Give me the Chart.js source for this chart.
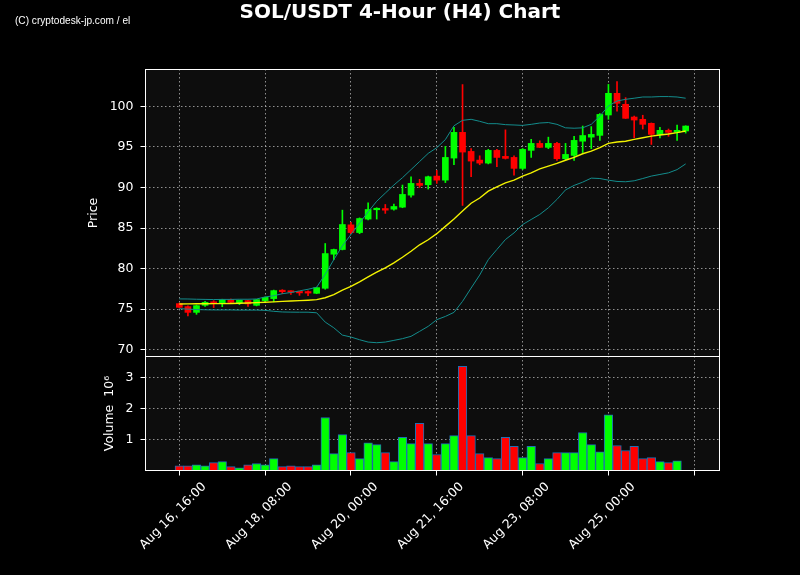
<!DOCTYPE html>
<html>
<head>
<meta charset="utf-8">
<title>SOL/USDT 4-Hour (H4) Chart</title>
<script src="https://cdn.jsdelivr.net/npm/chart.js@4.4.1/dist/chart.umd.min.js"></script>
<style>
  html, body { margin: 0; padding: 0; background: #000; }
  #wrap { position: relative; width: 800px; height: 575px; overflow: hidden; }
  #pricebox { position: absolute; left: 0; top: 0; width: 800px; height: 360px; }
  #volbox { position: absolute; left: 0; top: 355px; width: 800px; height: 220px; }
  #title { position: absolute; left: 0; top: 0; width: 800px; text-align: center; color: #fff;
           font-family: "DejaVu Sans", sans-serif; font-weight: bold; font-size: 20px; line-height: 22px; z-index: 2; }
  #credit { position: absolute; left: 15px; top: 14px; color: #fff; z-index: 2;
            font-family: "Liberation Sans Narrow", "Liberation Sans", sans-serif; font-size: 11px;
            transform: scaleX(0.92); transform-origin: left top; white-space: nowrap; }
</style>
</head>
<body>
<div id="wrap">
  <div id="pricebox"><canvas id="priceChart"></canvas></div>
  <div id="volbox"><canvas id="volChart"></canvas></div>
  <div id="title">SOL/USDT 4-Hour (H4) Chart</div>
  <div id="credit">(C) cryptodesk-jp.com / el</div>
</div>
<script>
// 4h candles, Aug 16 16:00 -> Aug 26 12:00
const times = [
  'Aug 16, 16:00', 'Aug 16, 20:00',
  'Aug 17, 00:00', 'Aug 17, 04:00', 'Aug 17, 08:00', 'Aug 17, 12:00', 'Aug 17, 16:00', 'Aug 17, 20:00',
  'Aug 18, 00:00', 'Aug 18, 04:00', 'Aug 18, 08:00', 'Aug 18, 12:00', 'Aug 18, 16:00', 'Aug 18, 20:00',
  'Aug 19, 00:00', 'Aug 19, 04:00', 'Aug 19, 08:00', 'Aug 19, 12:00', 'Aug 19, 16:00', 'Aug 19, 20:00',
  'Aug 20, 00:00', 'Aug 20, 04:00', 'Aug 20, 08:00', 'Aug 20, 12:00', 'Aug 20, 16:00', 'Aug 20, 20:00',
  'Aug 21, 00:00', 'Aug 21, 04:00', 'Aug 21, 08:00', 'Aug 21, 12:00', 'Aug 21, 16:00', 'Aug 21, 20:00',
  'Aug 22, 00:00', 'Aug 22, 04:00', 'Aug 22, 08:00', 'Aug 22, 12:00', 'Aug 22, 16:00', 'Aug 22, 20:00',
  'Aug 23, 00:00', 'Aug 23, 04:00', 'Aug 23, 08:00', 'Aug 23, 12:00', 'Aug 23, 16:00', 'Aug 23, 20:00',
  'Aug 24, 00:00', 'Aug 24, 04:00', 'Aug 24, 08:00', 'Aug 24, 12:00', 'Aug 24, 16:00', 'Aug 24, 20:00',
  'Aug 25, 00:00', 'Aug 25, 04:00', 'Aug 25, 08:00', 'Aug 25, 12:00', 'Aug 25, 16:00', 'Aug 25, 20:00',
  'Aug 26, 00:00', 'Aug 26, 04:00', 'Aug 26, 08:00', 'Aug 26, 12:00'
];

const open = [
  75.68, 75.31, 74.60, 75.47, 75.84, 75.72, 76.17, 75.80, 76.05, 75.47,
  76.05, 76.30, 77.22, 77.20, 77.15, 77.05, 76.95, 77.57, 81.77, 82.35,
  85.39, 84.44, 86.10, 87.25, 87.40, 87.32, 87.57, 89.05, 90.50, 90.33,
  91.40, 90.90, 93.62, 96.79, 94.44, 93.37, 93.00, 94.57, 93.83, 93.70,
  92.35, 94.57, 95.43, 94.94, 95.43, 93.54, 93.95, 95.70, 96.20, 96.42,
  98.93, 101.60, 100.25, 98.68, 98.40, 97.90, 96.54, 97.04, 96.80, 96.96
];
const high = [
  75.75, 75.40, 75.50, 75.95, 76.05, 76.22, 76.25, 76.12, 76.10, 76.20,
  76.50, 77.35, 77.40, 77.25, 77.20, 77.25, 77.70, 83.09, 82.40, 87.20,
  85.70, 86.25, 88.10, 87.50, 87.90, 87.95, 90.30, 91.30, 91.00, 91.40,
  92.10, 95.06, 97.40, 102.68, 94.80, 93.90, 94.70, 94.70, 97.10, 93.90,
  94.80, 95.93, 95.75, 96.20, 95.55, 95.43, 96.30, 97.57, 97.50, 99.10,
  102.70, 103.05, 101.07, 98.80, 98.90, 97.95, 97.40, 97.20, 97.70, 97.60
];
const low = [
  75.15, 74.16, 74.36, 75.35, 75.19, 75.30, 75.80, 75.55, 75.35, 75.40,
  75.80, 75.90, 76.90, 76.80, 76.70, 76.65, 76.90, 77.45, 81.10, 82.30,
  84.30, 84.30, 86.00, 86.10, 86.80, 87.20, 87.50, 88.80, 90.00, 89.80,
  90.50, 90.60, 92.80, 87.78, 91.32, 92.80, 92.90, 92.55, 93.50, 91.52,
  92.20, 93.70, 94.90, 94.78, 93.33, 93.40, 93.33, 94.30, 94.78, 95.80,
  98.40, 99.40, 98.50, 96.13, 97.20, 95.30, 96.10, 96.30, 95.80, 96.70
];
const close = [
  75.22, 74.60, 75.43, 75.84, 75.72, 76.17, 75.84, 76.09, 75.64, 76.17,
  76.46, 77.28, 77.15, 77.08, 77.00, 76.98, 77.65, 81.85, 82.35, 85.43,
  84.44, 86.17, 87.28, 87.40, 87.20, 87.65, 89.14, 90.50, 90.25, 91.32,
  90.90, 93.70, 96.79, 94.36, 93.25, 93.00, 94.57, 93.70, 93.58, 92.35,
  94.69, 95.43, 94.94, 95.43, 93.54, 94.07, 95.80, 96.40, 96.54, 99.00,
  101.60, 100.37, 98.52, 98.31, 97.78, 96.54, 97.04, 96.79, 97.04, 97.57
];
const volume = [
  170000, 170000, 200000, 170000, 270000, 300000, 140000, 100000, 200000, 240000,
  200000, 400000, 140000, 170000, 140000, 140000, 200000, 1720000, 560000, 1170000,
  590000, 400000, 910000, 850000, 590000, 300000, 1080000, 880000, 1530000, 880000,
  530000, 880000, 1140000, 3370000, 1140000, 560000, 430000, 400000, 1080000, 790000,
  430000, 790000, 240000, 400000, 590000, 590000, 590000, 1240000, 850000, 620000,
  1810000, 820000, 660000, 790000, 400000, 430000, 300000, 270000, 330000, 10000
];
const sma20 = [
  75.64, 75.65, 75.66, 75.67, 75.68, 75.68, 75.70, 75.73, 75.76, 75.80,
  75.85, 75.90, 75.96, 76.00, 76.05, 76.10, 76.17, 76.40, 76.80, 77.35,
  77.80, 78.36, 78.97, 79.55, 80.10, 80.70, 81.40, 82.14, 82.93, 83.55,
  84.30, 85.20, 86.10, 87.10, 88.05, 88.70, 89.55, 90.08, 90.57, 90.90,
  91.40, 91.80, 92.30, 92.63, 92.96, 93.35, 93.70, 94.15, 94.48, 94.90,
  95.43, 95.60, 95.70, 95.93, 96.13, 96.33, 96.46, 96.58, 96.75, 96.95
];
const bbUpper = [
  76.26, 76.25, 76.22, 76.20, 76.18, 76.20, 76.20, 76.22, 76.22, 76.25,
  76.50, 76.65, 76.90, 77.05, 77.25, 77.45, 77.70, 79.30, 81.10, 82.80,
  84.20, 85.60, 87.00, 88.30, 89.30, 90.30, 91.20, 92.20, 93.20, 94.20,
  94.90, 95.90, 97.60, 98.27, 98.40, 98.15, 97.86, 97.86, 97.74, 97.70,
  97.65, 97.78, 97.94, 98.00, 97.78, 97.35, 97.30, 97.35, 97.78, 98.80,
  100.04, 100.65, 100.86, 101.00, 101.15, 101.15, 101.20, 101.20, 101.15, 101.00
];
const bbLower = [
  75.06, 75.00, 74.95, 74.92, 74.90, 74.90, 74.90, 74.88, 74.88, 74.88,
  74.85, 74.73, 74.65, 74.63, 74.62, 74.62, 74.55, 73.40, 72.70, 71.80,
  71.56, 71.23, 70.94, 70.86, 70.94, 71.15, 71.36, 71.65, 72.26, 72.88,
  73.70, 74.10, 74.60, 75.96, 77.60, 79.20, 81.10, 82.35, 83.58, 84.40,
  85.43, 86.05, 86.67, 87.49, 88.52, 89.70, 90.25, 90.65, 91.15, 91.10,
  90.90, 90.74, 90.70, 90.82, 91.10, 91.40, 91.60, 91.80, 92.20, 92.90
];

const tickIdx = [0, 10, 20, 30, 40, 50, 60];
const priceTicks = [70, 75, 80, 85, 90, 95, 100];
const volTicks = [1000000, 2000000, 3000000];

const UP = '#00ff00';
const DOWN = '#ff0000';
const candleColors = close.map((c, i) => (c >= open[i] ? UP : DOWN));
const pts = arr => arr.map((v, i) => ({ x: i, y: v }));

const font = { family: 'DejaVu Sans', size: 12.5 };
const gridColor = 'rgba(200,200,200,0.7)';

const framePlugin = {
  id: 'frame',
  beforeDraw(chart) {
    const { ctx, chartArea: a } = chart;
    ctx.save();
    ctx.fillStyle = '#0d0d0d';
    ctx.fillRect(a.left, a.top, a.width, a.height);
    ctx.restore();
  },
  afterDraw(chart) {
    const { ctx, chartArea: a } = chart;
    ctx.save();
    ctx.strokeStyle = '#ffffff';
    ctx.lineWidth = 1;
    ctx.strokeRect(Math.round(a.left) + 0.5, Math.round(a.top) + 0.5,
                   Math.round(a.width) - 1, Math.round(a.height) - 1);
    ctx.restore();
  }
};

// the layout would otherwise reserve room for half tick labels
function noPad(ax) {
  ax.paddingTop = 0;
  ax.paddingBottom = 0;
  ax.paddingLeft = 0;
  ax.paddingRight = 0;
}

function xAxis(showLabels) {
  return {
    type: 'linear',
    min: -4,
    max: 63,
    offset: false,
    z: 1,
    afterBuildTicks: ax => { ax.ticks = tickIdx.map(v => ({ value: v })); },
    afterFit: ax => { ax.height = showLabels ? 104 : 0; noPad(ax); },
    grid: { color: gridColor, lineWidth: 1, offset: false, drawTicks: showLabels, tickLength: 4.5, tickColor: '#ffffff' },
    border: { display: false, dash: [1.5, 2.5] },
    ticks: {
      display: showLabels,
      autoSkip: false,
      minRotation: 45,
      maxRotation: 45,
      labelOffset: 25,
      padding: 4,
      color: '#ffffff',
      font: font,
      callback: v => times[v] || ''
    }
  };
}

new Chart(document.getElementById('priceChart'), {
  type: 'bar',
  data: {
    datasets: [
      { type: 'line', data: pts(bbUpper), borderColor: '#138c8c', borderWidth: 1, pointRadius: 0, order: 0 },
      { type: 'line', data: pts(bbLower), borderColor: '#138c8c', borderWidth: 1, pointRadius: 0, order: 0 },
      { type: 'line', data: pts(sma20), borderColor: '#f2f200', borderWidth: 1.4, pointRadius: 0, order: 0 },
      {
        type: 'bar',
        data: open.map((o, i) => ({ x: i, y: [o, close[i]] })),
        backgroundColor: candleColors,
        barThickness: 6,
        minBarLength: 1.5,
        grouped: false,
        order: 1
      },
      {
        type: 'bar',
        data: low.map((l, i) => ({ x: i, y: [l, high[i]] })),
        backgroundColor: candleColors,
        barThickness: 1,
        grouped: false,
        order: 2
      }
    ]
  },
  options: {
    responsive: true,
    maintainAspectRatio: false,
    animation: false,
    devicePixelRatio: 1,
    events: [],
    layout: { padding: { top: 69, bottom: 3, left: 0, right: 80 } },
    plugins: { legend: { display: false }, tooltip: { enabled: false } },
    scales: {
      x: xAxis(false),
      y: {
        min: 69.1,
        max: 104.6,
        z: 1,
        afterBuildTicks: ax => { ax.ticks = priceTicks.map(v => ({ value: v })); },
        afterFit: ax => { ax.width = 145; noPad(ax); },
        grid: { color: gridColor, lineWidth: 1, tickLength: 4.5, tickColor: '#ffffff' },
        border: { display: false, dash: [1.5, 2.5] },
        ticks: { color: '#ffffff', font: font, padding: 7 },
        title: { display: true, text: 'Price', color: '#ffffff', font: font, padding: { top: 86, bottom: 0 } }
      }
    }
  },
  plugins: [framePlugin]
});

new Chart(document.getElementById('volChart'), {
  type: 'bar',
  data: {
    datasets: [
      {
        data: volume.map((v, i) => ({ x: i, y: v })),
        backgroundColor: candleColors,
        borderColor: '#1f6fb4',
        borderWidth: 1,
        barThickness: 8.6,
        grouped: false
      }
    ]
  },
  options: {
    responsive: true,
    maintainAspectRatio: false,
    animation: false,
    devicePixelRatio: 1,
    events: [],
    layout: { padding: { top: 1, bottom: 0, left: 0, right: 80 } },
    plugins: { legend: { display: false }, tooltip: { enabled: false } },
    scales: {
      x: xAxis(true),
      y: {
        min: 0,
        max: 3700000,
        z: 1,
        afterBuildTicks: ax => { ax.ticks = volTicks.map(v => ({ value: v })); },
        afterFit: ax => { ax.width = 145; noPad(ax); },
        grid: { color: gridColor, lineWidth: 1, tickLength: 4.5, tickColor: '#ffffff' },
        border: { display: false, dash: [1.5, 2.5] },
        ticks: { color: '#ffffff', font: font, padding: 7, callback: v => String(v / 1000000) },
        title: { display: true, text: 'Volume  10⁶', color: '#ffffff', font: font, padding: { top: 102, bottom: 0 } }
      }
    }
  },
  plugins: [framePlugin]
});
</script>
</body>
</html>
